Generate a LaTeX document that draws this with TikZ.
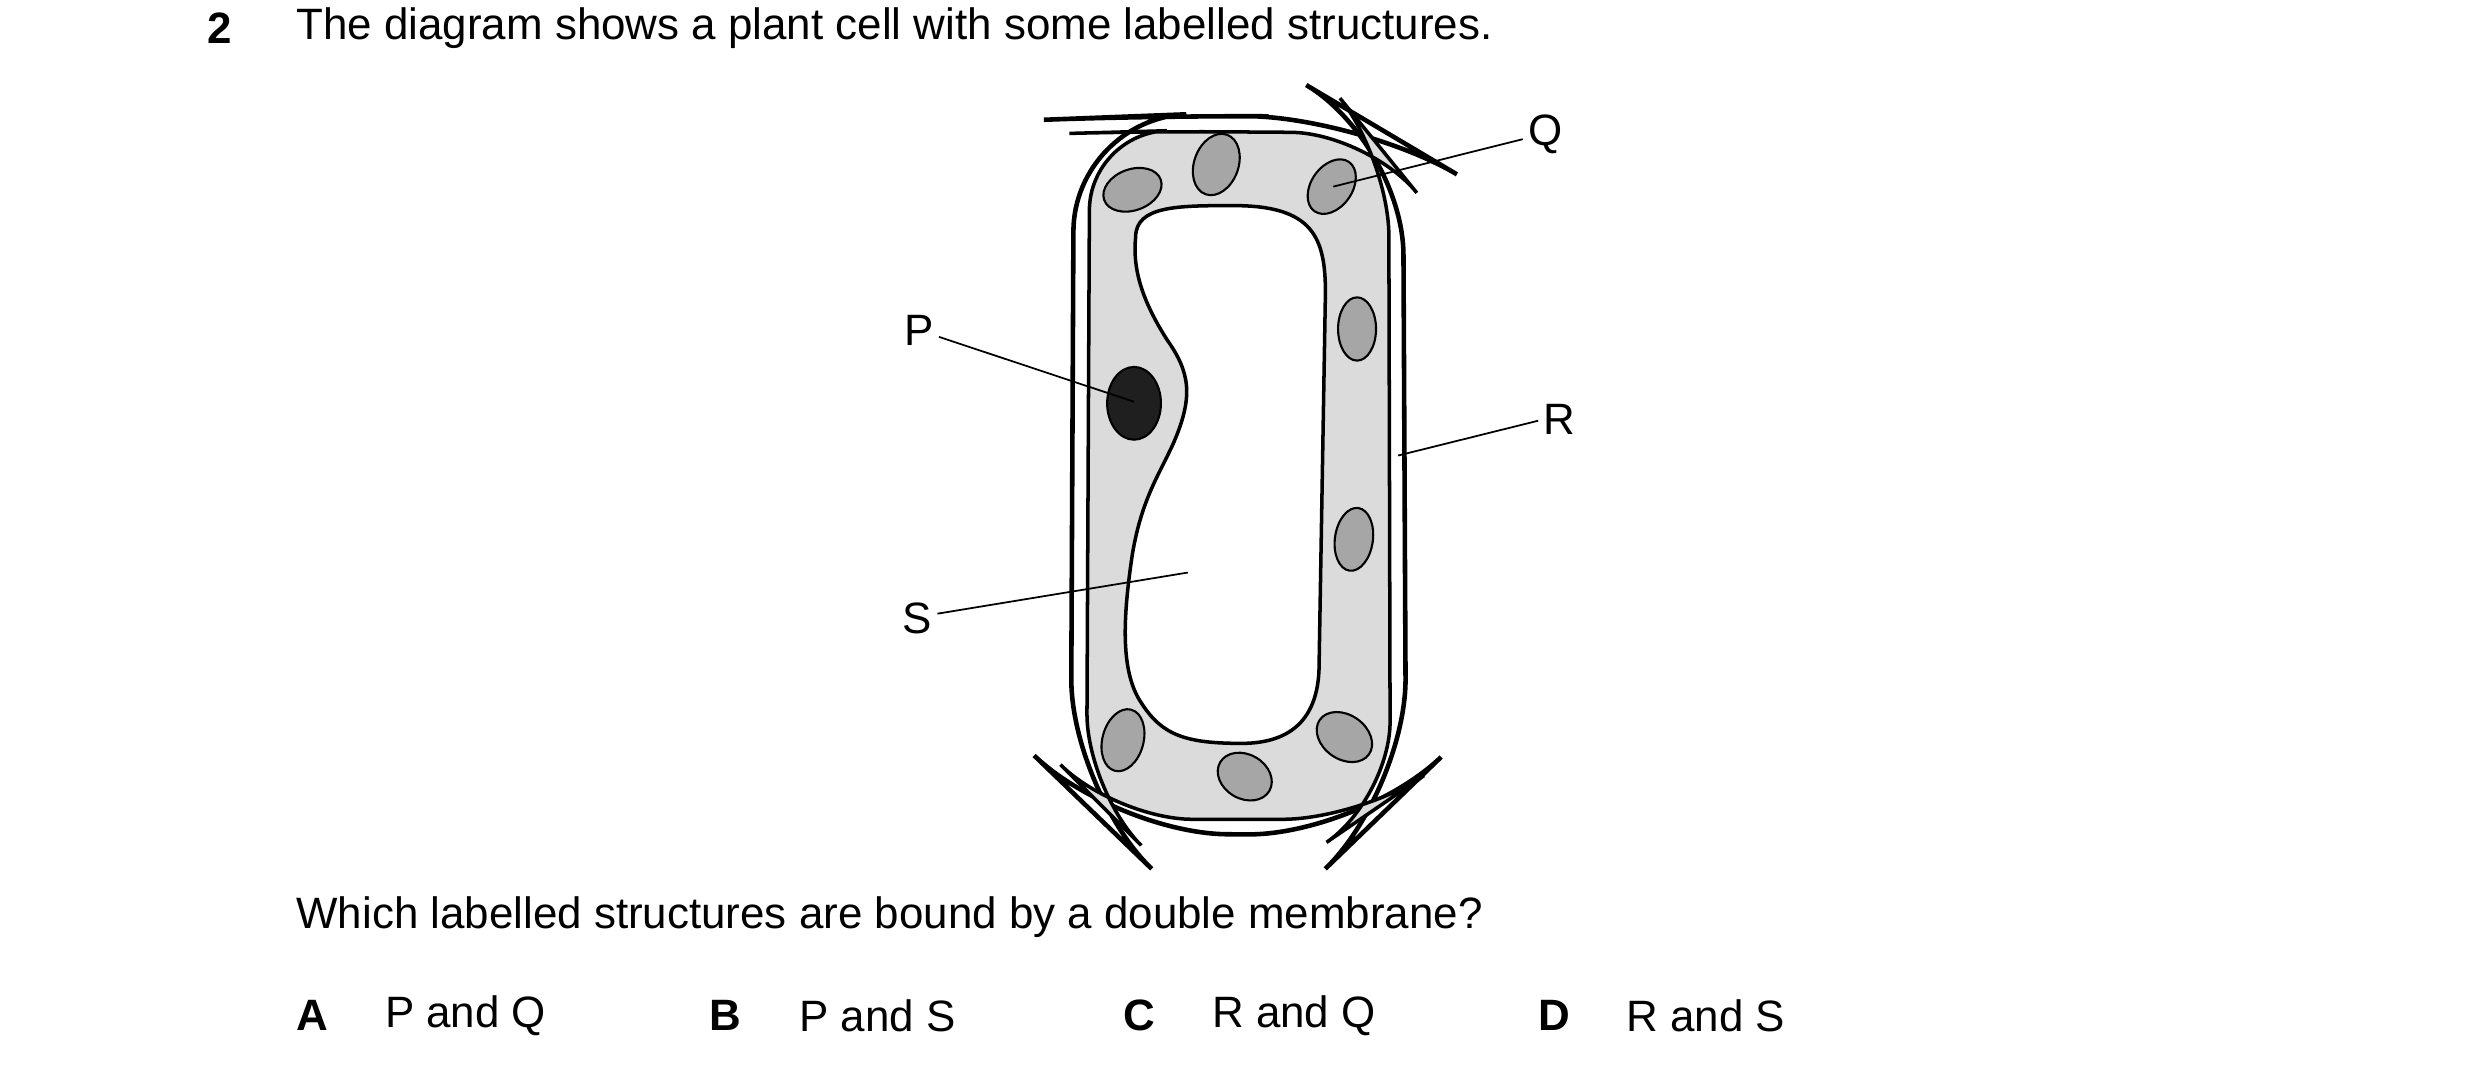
\documentclass[tikz,border=0pt]{standalone}
\usepackage{fontspec}
\setmainfont{Liberation Sans}
\begin{document}
\begin{tikzpicture}[x=0.01582cm,y=-0.01582cm,
  txt/.style={anchor=west,inner sep=0,font=\fontsize{12.5}{15}\selectfont},
  lbl/.style={inner sep=0,font=\fontsize{12.5}{15}\selectfont},
  chl/.style={draw=black,line width=0.6pt,fill=gray!70},
  lead/.style={line width=0.5pt}]
\useasboundingbox (0,0) rectangle (1568,679);
% cell wall
\draw[line width=1.3pt,rounded corners=32] (679,75) -- (731,73) -- (860,74) -- (887,90) -- (889,500) -- (860,528) -- (705,527) -- (677,500) -- cycle;
\draw[line width=1pt,fill=gray!28,rounded corners=22] (689,84) -- (725,83) -- (865,84) -- (878,100) -- (879,505) -- (860,518) -- (705,518) -- (687,500) -- cycle;
% vacuole
\draw[line width=1pt,fill=white] (718,150) .. controls (718,130) and (745,130) .. (780,130)
  .. controls (830,130) and (838,150) .. (838,185)
  -- (834,420) .. controls (834,460) and (810,470) .. (785,470)
  .. controls (750,470) and (735,465) .. (722,445)
  .. controls (708,425) and (710,390) .. (716,350)
  .. controls (722,315) and (733,300) .. (742,280)
  .. controls (755,250) and (752,235) .. (738,215)
  .. controls (722,190) and (716,170) .. (718,150) -- cycle;
% nucleus
\draw[line width=0.6pt,fill=black!88] (717,255) ellipse (17 and 23);
% chloroplasts
\draw[chl,rotate around={20:(716,120)}] (716,120) ellipse (19 and 13);
\draw[chl,rotate around={-20:(769,104)}] (769,104) ellipse (14 and 20);
\draw[chl,rotate around={-35:(842,118)}] (842,118) ellipse (13 and 19);
\draw[chl] (858,208) ellipse (12 and 20);
\draw[chl,rotate around={-8:(856,341)}] (856,341) ellipse (12 and 20);
\draw[chl,rotate around={-15:(710,468)}] (710,468) ellipse (13 and 20);
\draw[chl,rotate around={-30:(787,491)}] (787,491) ellipse (18 and 14);
\draw[chl,rotate around={-35:(850,466)}] (850,466) ellipse (19 and 14);
% labels
\node[lbl] (Q) at (977,85) {Q};
\node[lbl] (P) at (581,209) {P};
\node[lbl] (R) at (986,265) {R};
\node[lbl] (S) at (580,391) {S};
\coordinate (q1) at (843,118);
\coordinate (p1) at (717,254);
\coordinate (r1) at (884,288);
\coordinate (s1) at (751,362);
\draw[lead] (Q.west) ++(-3,3) -- (q1);
\draw[lead] (P.east) ++(3,4) -- (p1);
\draw[lead] (R.west) ++(-3,1) -- (r1);
\draw[lead] (S.east) ++(3,-3) -- (s1);
% text
\node[txt,font=\fontsize{12.5}{15}\selectfont\bfseries] (n2) at (131,18) {2};
\node[txt] (t1) at (187,18) {The diagram shows a plant cell with some labelled structures.};
\node[txt] (t2) at (187,580) {Which labelled structures are bound by a double membrane?};
\node[txt,font=\fontsize{12.5}{15}\selectfont\bfseries] (A) at (187,642) {A};
\node[txt] (a) at (243,642) {P and Q};
\node[txt,font=\fontsize{12.5}{15}\selectfont\bfseries] (B) at (448,642) {B};
\node[txt] (b) at (505,642) {P and S};
\node[txt,font=\fontsize{12.5}{15}\selectfont\bfseries] (C) at (710,642) {C};
\node[txt] (c) at (766,642) {R and Q};
\node[txt,font=\fontsize{12.5}{15}\selectfont\bfseries] (D) at (972,642) {D};
\node[txt] (d) at (1028,642) {R and S};
\end{tikzpicture}
\end{document}
